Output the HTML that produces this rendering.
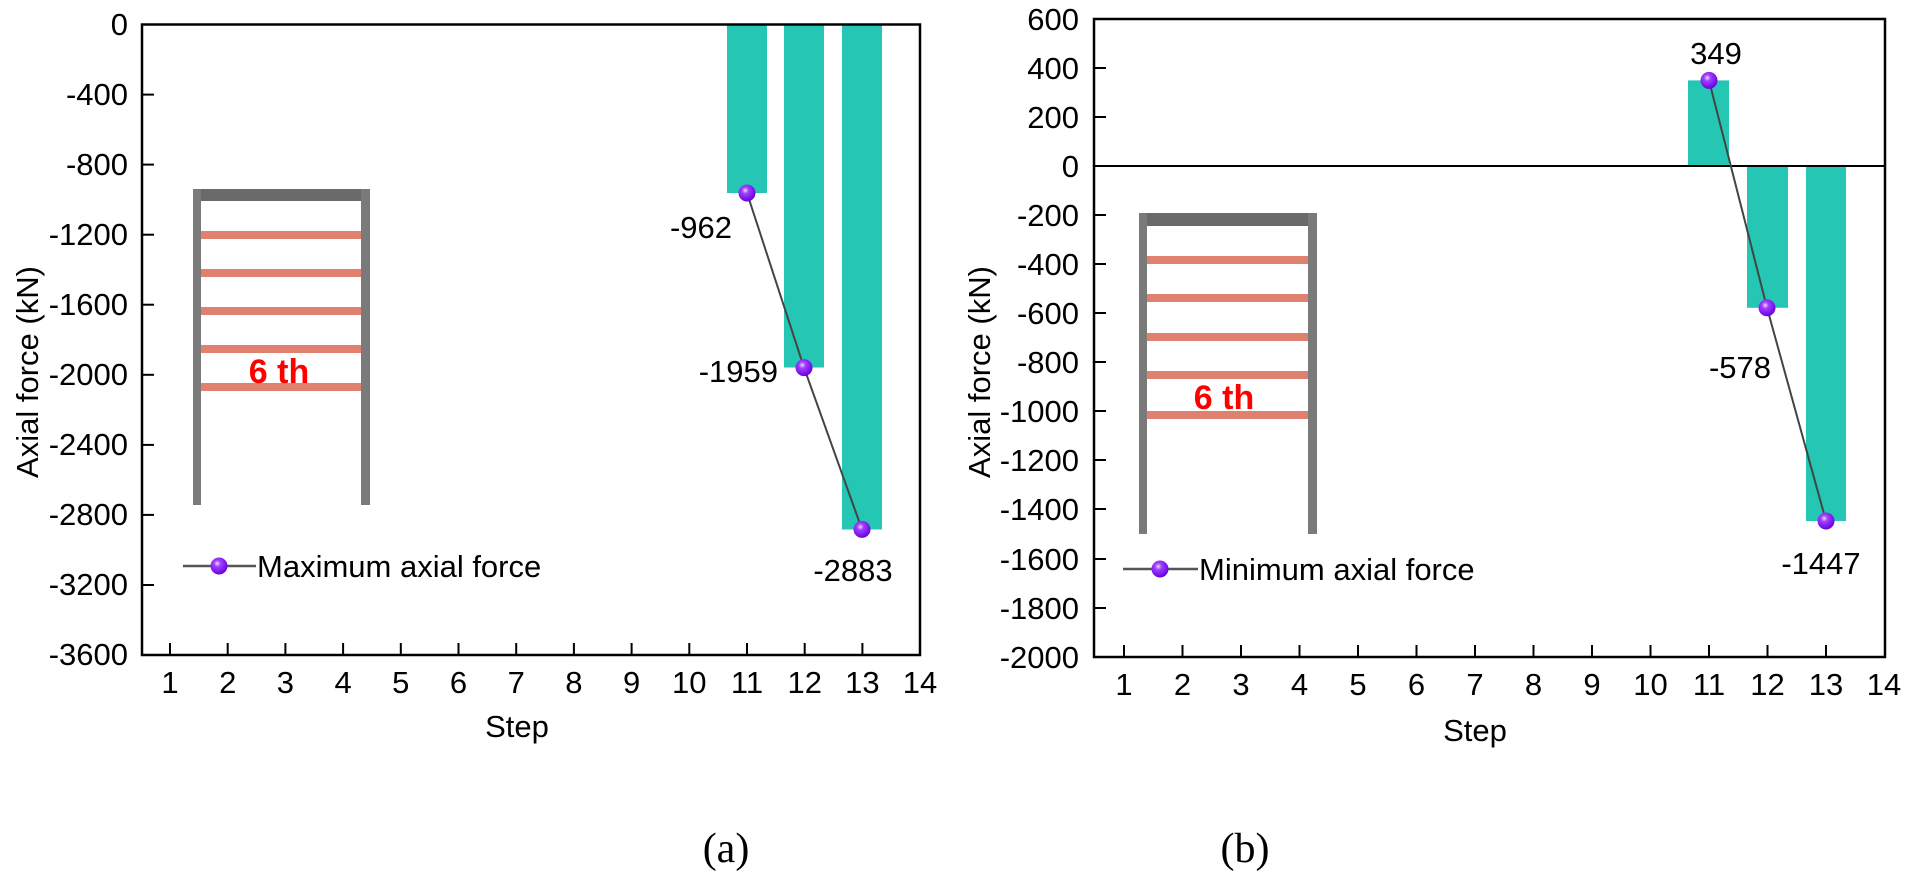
<!DOCTYPE html>
<html><head><meta charset="utf-8"><style>html,body{margin:0;padding:0;background:#fff}svg{display:block}</style></head><body>
<svg width="1908" height="875" viewBox="0 0 1908 875" xmlns="http://www.w3.org/2000/svg" font-family="Liberation Sans, Arial, sans-serif">
<defs>
<radialGradient id="ball" cx="0.4" cy="0.35" r="0.65">
<stop offset="0" stop-color="#f0d8ff"/><stop offset="0.3" stop-color="#a040ff"/><stop offset="1" stop-color="#6a00e0"/>
</radialGradient>
</defs>
<!-- LEFT PLOT -->
<g>
<rect x="727" y="24.5" width="40" height="168.5" fill="#26c6b5"/>
<rect x="784" y="24.5" width="40" height="343" fill="#26c6b5"/>
<rect x="842" y="24.5" width="40" height="505" fill="#26c6b5"/>
<rect x="142" y="24.5" width="778" height="630.5" fill="none" stroke="#000" stroke-width="2.5"/>
<g stroke="#000" stroke-width="2">
<line x1="142" y1="94.6" x2="154" y2="94.6"/><line x1="142" y1="164.6" x2="154" y2="164.6"/><line x1="142" y1="234.7" x2="154" y2="234.7"/><line x1="142" y1="304.7" x2="154" y2="304.7"/><line x1="142" y1="374.8" x2="154" y2="374.8"/><line x1="142" y1="444.9" x2="154" y2="444.9"/><line x1="142" y1="514.9" x2="154" y2="514.9"/><line x1="142" y1="585" x2="154" y2="585"/>
<line x1="170" y1="655" x2="170" y2="643"/><line x1="227.7" y1="655" x2="227.7" y2="643"/><line x1="285.4" y1="655" x2="285.4" y2="643"/><line x1="343.1" y1="655" x2="343.1" y2="643"/><line x1="400.8" y1="655" x2="400.8" y2="643"/><line x1="458.5" y1="655" x2="458.5" y2="643"/><line x1="516.2" y1="655" x2="516.2" y2="643"/><line x1="573.9" y1="655" x2="573.9" y2="643"/><line x1="631.6" y1="655" x2="631.6" y2="643"/><line x1="689.3" y1="655" x2="689.3" y2="643"/><line x1="747" y1="655" x2="747" y2="643"/><line x1="804.7" y1="655" x2="804.7" y2="643"/><line x1="862.4" y1="655" x2="862.4" y2="643"/>
</g>
<g font-size="31" text-anchor="end" fill="#000">
<text x="128" y="35">0</text><text x="128" y="105">-400</text><text x="128" y="175">-800</text><text x="128" y="245">-1200</text><text x="128" y="315">-1600</text><text x="128" y="385">-2000</text><text x="128" y="455">-2400</text><text x="128" y="525">-2800</text><text x="128" y="595">-3200</text><text x="128" y="665">-3600</text>
</g>
<g font-size="31" text-anchor="middle" fill="#000">
<text x="170" y="693">1</text><text x="227.7" y="693">2</text><text x="285.4" y="693">3</text><text x="343.1" y="693">4</text><text x="400.8" y="693">5</text><text x="458.5" y="693">6</text><text x="516.2" y="693">7</text><text x="573.9" y="693">8</text><text x="631.6" y="693">9</text><text x="689.3" y="693">10</text><text x="747" y="693">11</text><text x="804.7" y="693">12</text><text x="862.4" y="693">13</text><text x="920" y="693">14</text>
<text x="517" y="737">Step</text>
<text transform="translate(38,372) rotate(-90)">Axial force (kN)</text>
<text x="701" y="238">-962</text><text x="853" y="581">-2883</text>
</g>
<text x="778" y="382" font-size="31" text-anchor="end">-1959</text>
<g>
<rect x="201" y="231" width="160" height="8" fill="#e0806e"/><rect x="201" y="269" width="160" height="8" fill="#e0806e"/><rect x="201" y="307" width="160" height="8" fill="#e0806e"/><rect x="201" y="345" width="160" height="8" fill="#e0806e"/><rect x="201" y="383" width="160" height="8" fill="#e0806e"/>
<rect x="193" y="189" width="177" height="12" fill="#6a6a6a"/>
<rect x="193" y="189" width="8" height="316" fill="#7a7a7a"/>
<rect x="361" y="189" width="9" height="316" fill="#7a7a7a"/>
<text x="279" y="383" font-size="34" font-weight="bold" fill="#ff0000" text-anchor="middle">6 th</text>
</g>
<line x1="183" y1="566" x2="256" y2="566" stroke="#555" stroke-width="2.5"/>
<circle cx="219" cy="566" r="8.5" fill="url(#ball)"/>
<text x="257" y="577" font-size="31">Maximum axial force</text>
<polyline points="747,193 804,367.6 862,529.4" fill="none" stroke="#444" stroke-width="2"/>
<circle cx="747" cy="193" r="8.5" fill="url(#ball)"/><circle cx="804" cy="367.6" r="8.5" fill="url(#ball)"/><circle cx="862" cy="529.4" r="8.5" fill="url(#ball)"/>
<text x="726" y="862" font-family="Liberation Serif, serif" font-size="42" text-anchor="middle">(a)</text>
</g>
<!-- RIGHT PLOT -->
<g>
<rect x="1688" y="80.4" width="41" height="85.6" fill="#26c6b5"/>
<rect x="1747" y="166" width="41" height="141.8" fill="#26c6b5"/>
<rect x="1806" y="166" width="40" height="355" fill="#26c6b5"/>
<rect x="1094" y="19" width="791" height="638" fill="none" stroke="#000" stroke-width="2.5"/>
<line x1="1094" y1="166" x2="1885" y2="166" stroke="#000" stroke-width="2"/>
<g stroke="#000" stroke-width="2">
<line x1="1094" y1="68" x2="1106" y2="68"/><line x1="1094" y1="117" x2="1106" y2="117"/><line x1="1094" y1="215" x2="1106" y2="215"/><line x1="1094" y1="264" x2="1106" y2="264"/><line x1="1094" y1="313" x2="1106" y2="313"/><line x1="1094" y1="362" x2="1106" y2="362"/><line x1="1094" y1="411" x2="1106" y2="411"/><line x1="1094" y1="460" x2="1106" y2="460"/><line x1="1094" y1="509" x2="1106" y2="509"/><line x1="1094" y1="559" x2="1106" y2="559"/><line x1="1094" y1="608" x2="1106" y2="608"/>
<line x1="1124" y1="657" x2="1124" y2="645"/><line x1="1182.5" y1="657" x2="1182.5" y2="645"/><line x1="1241" y1="657" x2="1241" y2="645"/><line x1="1299.5" y1="657" x2="1299.5" y2="645"/><line x1="1358" y1="657" x2="1358" y2="645"/><line x1="1416.5" y1="657" x2="1416.5" y2="645"/><line x1="1475" y1="657" x2="1475" y2="645"/><line x1="1533.5" y1="657" x2="1533.5" y2="645"/><line x1="1592" y1="657" x2="1592" y2="645"/><line x1="1650.5" y1="657" x2="1650.5" y2="645"/><line x1="1709" y1="657" x2="1709" y2="645"/><line x1="1767.5" y1="657" x2="1767.5" y2="645"/><line x1="1826" y1="657" x2="1826" y2="645"/>
</g>
<g font-size="31" text-anchor="end" fill="#000">
<text x="1079" y="30">600</text><text x="1079" y="79">400</text><text x="1079" y="128">200</text><text x="1079" y="177">0</text><text x="1079" y="226">-200</text><text x="1079" y="275">-400</text><text x="1079" y="324">-600</text><text x="1079" y="373">-800</text><text x="1079" y="422">-1000</text><text x="1079" y="471">-1200</text><text x="1079" y="520">-1400</text><text x="1079" y="570">-1600</text><text x="1079" y="619">-1800</text><text x="1079" y="668">-2000</text>
</g>
<g font-size="31" text-anchor="middle" fill="#000">
<text x="1124" y="695">1</text><text x="1182.5" y="695">2</text><text x="1241" y="695">3</text><text x="1299.5" y="695">4</text><text x="1358" y="695">5</text><text x="1416.5" y="695">6</text><text x="1475" y="695">7</text><text x="1533.5" y="695">8</text><text x="1592" y="695">9</text><text x="1650.5" y="695">10</text><text x="1709" y="695">11</text><text x="1767.5" y="695">12</text><text x="1826" y="695">13</text><text x="1884" y="695">14</text>
<text x="1475" y="741">Step</text>
<text transform="translate(990,372) rotate(-90)">Axial force (kN)</text>
<text x="1716" y="64">349</text><text x="1740" y="378">-578</text><text x="1821" y="574">-1447</text>
</g>
<g>
<rect x="1147" y="256" width="161" height="8" fill="#e0806e"/><rect x="1147" y="294" width="161" height="8" fill="#e0806e"/><rect x="1147" y="333" width="161" height="8" fill="#e0806e"/><rect x="1147" y="371" width="161" height="8" fill="#e0806e"/><rect x="1147" y="411" width="161" height="8" fill="#e0806e"/>
<rect x="1139" y="213" width="178" height="13" fill="#6a6a6a"/>
<rect x="1139" y="213" width="8" height="321" fill="#7a7a7a"/>
<rect x="1308" y="213" width="9" height="321" fill="#7a7a7a"/>
<text x="1224" y="409" font-size="34" font-weight="bold" fill="#ff0000" text-anchor="middle">6 th</text>
</g>
<line x1="1123" y1="569" x2="1198" y2="569" stroke="#555" stroke-width="2.5"/>
<circle cx="1160" cy="569" r="8.5" fill="url(#ball)"/>
<text x="1199" y="580" font-size="31">Minimum axial force</text>
<polyline points="1709,80.4 1767,307.8 1826,521" fill="none" stroke="#444" stroke-width="2"/>
<circle cx="1709" cy="80.4" r="8.5" fill="url(#ball)"/><circle cx="1767" cy="307.8" r="8.5" fill="url(#ball)"/><circle cx="1826" cy="521" r="8.5" fill="url(#ball)"/>
<text x="1245" y="862" font-family="Liberation Serif, serif" font-size="42" text-anchor="middle">(b)</text>
</g>
</svg>
</body></html>
